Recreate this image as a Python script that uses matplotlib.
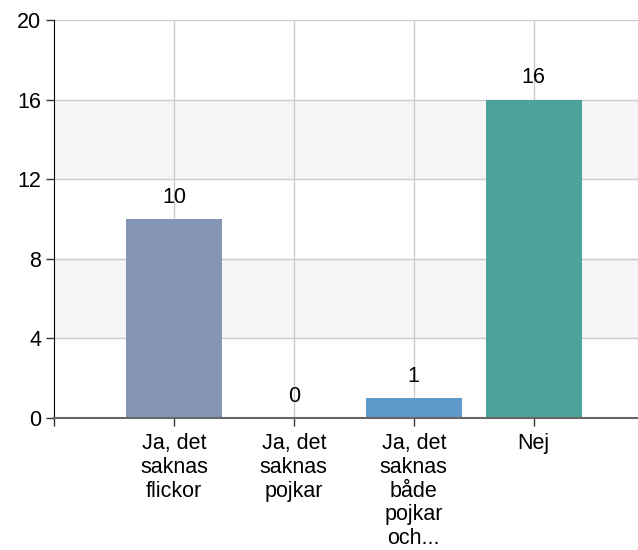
import matplotlib.pyplot as plt

categories = ["Ja, det\nsaknas\nflickor", "Ja, det\nsaknas\npojkar", "Ja, det\nsaknas\nbåde\npojkar\noch...", "Nej"]
values = [10, 0, 1, 16]
colors = ["#8495b6", "#8495b6", "#5f99c9", "#4ba39b"]
yticks = [0, 4, 8, 12, 16, 20]

plt.rcParams['font.family'] = ['Liberation Sans', 'DejaVu Sans']
fs = 15.5

fig = plt.figure(figsize=(6.38, 5.5), dpi=100)
ax = fig.add_axes([54 / 638, 132 / 550, 584 / 638, 398 / 550])

# alternating bands
for lo in [4, 12]:
    ax.axhspan(lo, lo + 4, color="#f5f5f5", zorder=0)
for y in yticks[1:]:
    ax.axhline(y, color="#cccccc", lw=1, zorder=1)
x = list(range(len(categories)))
for xi in x:
    ax.axvline(xi, color="#cccccc", lw=1, zorder=1)

bars = ax.bar(x, values, width=0.8, color=colors, zorder=2)
for xi, v in zip(x, values):
    ax.annotate(str(v), (xi, v), xytext=(0, 8), textcoords="offset points",
                ha="center", va="bottom", fontsize=fs, zorder=3)

ax.set_xlim(-1, 3.87)
ax.set_ylim(0, 20)
ax.set_yticks(yticks)
ax.set_yticklabels([str(t) for t in yticks], fontsize=fs)
ax.set_xticks([-1] + x)
ax.set_xticklabels([""] + categories, fontsize=fs, linespacing=1.17, va="top")
ax.tick_params(axis="both", length=6, width=1, color="#333333")
ax.tick_params(axis="y", pad=3)
ax.tick_params(axis="x", pad=5)

for s in ["top", "right"]:
    ax.spines[s].set_visible(False)
ax.spines["left"].set_color("#000000")
ax.spines["bottom"].set_color("#666666")
ax.spines["bottom"].set_linewidth(1.5)
ax.spines["bottom"].set_zorder(4)

plt.savefig("out.png", dpi=100)
